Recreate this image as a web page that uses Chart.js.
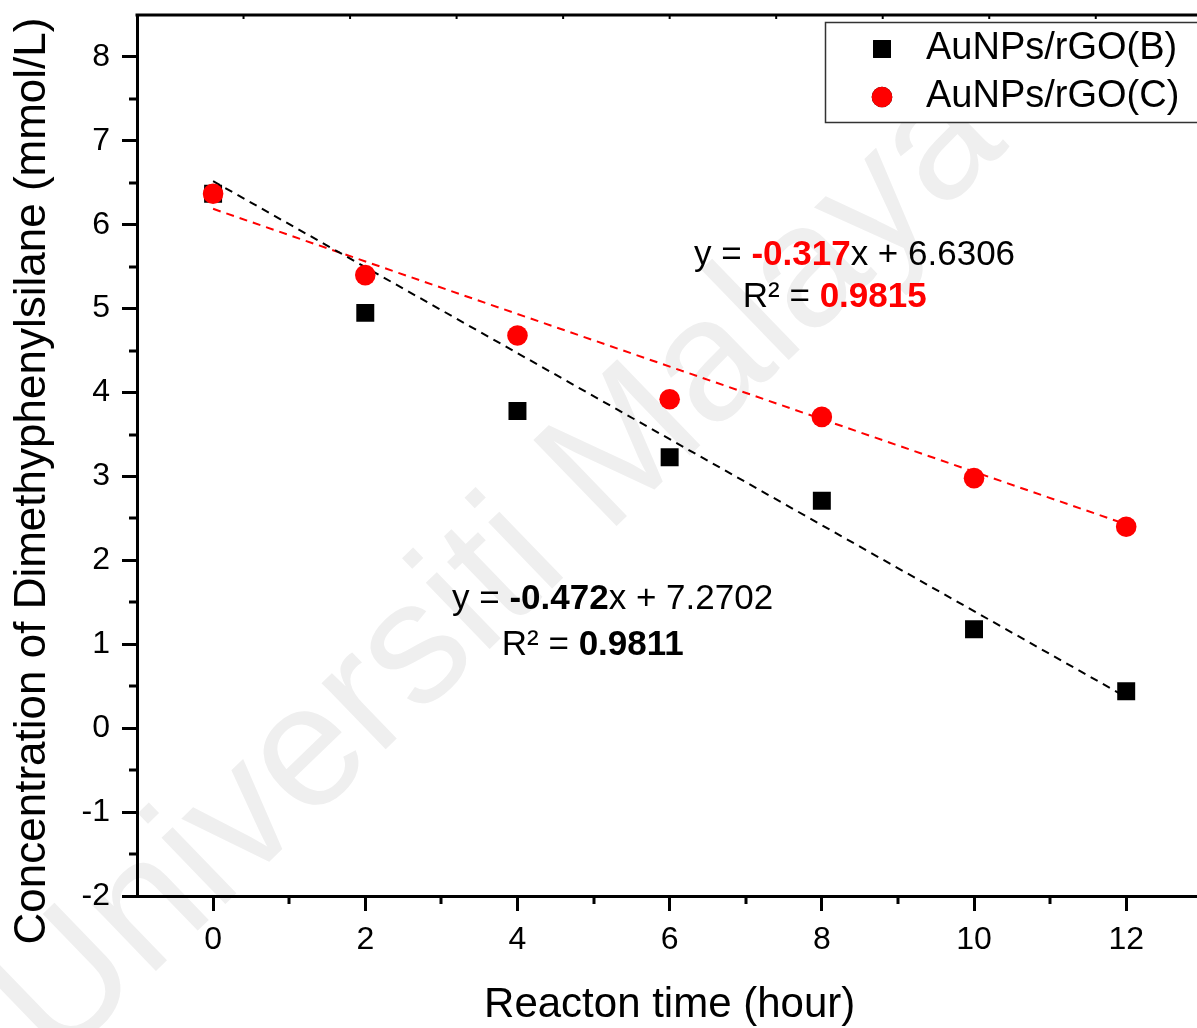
<!DOCTYPE html>
<html>
<head>
<meta charset="utf-8">
<script src="https://cdn.jsdelivr.net/npm/chart.js@4.4.1/dist/chart.umd.min.js"></script>
<style>
  html, body { margin: 0; padding: 0; background: #fff; overflow: hidden; }
  #wrap { width: 1215px; height: 1028px; }
</style>
</head>
<body>
<div id="wrap"><canvas id="c" width="1215" height="1028"></canvas></div>
<script>
// Reaction time (hours) and measured concentrations (mmol/L)
const hours = [0, 2, 4, 6, 8, 10, 12];
const concB = [6.37, 4.95, 3.78, 3.23, 2.71, 1.18, 0.44];
const concC = [6.37, 5.40, 4.68, 3.92, 3.71, 2.98, 2.40];

// Linear trend lines (end points)
const fitHours = [0, 12];
const fitB = [6.52, 0.37];
const fitC = [6.19, 2.43];

// Axis ticks
const xTickValues = [0, 2, 4, 6, 8, 10, 12];
const xMinorValues = [1, 3, 5, 7, 9, 11];
const yTickValues = [-2, -1, 0, 1, 2, 3, 4, 5, 6, 7, 8];
const yMinorValues = [-1.5, -0.5, 0.5, 1.5, 2.5, 3.5, 4.5, 5.5, 6.5, 7.5];

const seriesNames = ['AuNPs/rGO(B)', 'AuNPs/rGO(C)'];
const xTitle = 'Reacton time (hour)';
const yTitle = 'Concentration of Dimethyphenylsilane (mmol/L)';
const watermark = 'Universiti Malaya';

// Fit equations: [text, bold, colour] segments
const RED = '#ff0000';
const BLACK = '#000000';
const eqC = [['y = ', false, BLACK], ['-0.317', true, RED], ['x + 6.6306', false, BLACK]];
const r2C = [['R\u00B2 = ', false, BLACK], ['0.9815', true, RED]];
const eqB = [['y = ', false, BLACK], ['-0.472', true, BLACK], ['x + 7.2702', false, BLACK]];
const r2B = [['R\u00B2 = ', false, BLACK], ['0.9811', true, BLACK]];

const FONT = '"Liberation Sans", Arial, Helvetica, sans-serif';

const toXY = (xs, ys) => xs.map((x, i) => ({ x: x, y: ys[i] }));

function drawRich(ctx, segs, cx, cy, size) {
  let total = 0;
  const widths = segs.map(s => {
    ctx.font = (s[1] ? 'bold ' : '') + size + 'px ' + FONT;
    const w = ctx.measureText(s[0]).width;
    total += w;
    return w;
  });
  let x = cx - total / 2;
  ctx.textAlign = 'left';
  ctx.textBaseline = 'middle';
  segs.forEach((s, i) => {
    ctx.font = (s[1] ? 'bold ' : '') + size + 'px ' + FONT;
    ctx.fillStyle = s[2];
    ctx.fillText(s[0], x, cy);
    x += widths[i];
  });
}

const decor = {
  id: 'decor',
  beforeDraw(chart) {
    const ctx = chart.ctx;
    ctx.save();
    ctx.fillStyle = '#ffffff';
    ctx.fillRect(0, 0, chart.width, chart.height);
    // faint diagonal watermark
    ctx.translate(500, 572);
    ctx.rotate(-44 * Math.PI / 180);
    ctx.font = '174px ' + FONT;
    ctx.fillStyle = '#efefef';
    ctx.textAlign = 'center';
    ctx.textBaseline = 'middle';
    ctx.fillText(watermark, 0, 0);
    ctx.restore();
  },
  afterDraw(chart) {
    const ctx = chart.ctx;
    const xs = chart.scales.x, ys = chart.scales.y;
    const area = chart.chartArea;
    ctx.save();
    ctx.strokeStyle = '#000';
    // minor ticks
    ctx.lineWidth = 3;
    xMinorValues.forEach(v => {
      const px = Math.round(xs.getPixelForValue(v));
      ctx.beginPath();
      ctx.moveTo(px, area.bottom);
      ctx.lineTo(px, area.bottom + 8);
      ctx.stroke();
    });
    yMinorValues.forEach(v => {
      const py = Math.round(ys.getPixelForValue(v));
      ctx.beginPath();
      ctx.moveTo(area.left, py);
      ctx.lineTo(area.left - 8, py);
      ctx.stroke();
    });
    // top frame line with small inward ticks
    ctx.lineWidth = 3;
    ctx.beginPath();
    ctx.moveTo(area.left - 1.5, area.top);
    ctx.lineTo(area.right, area.top);
    ctx.stroke();
    ctx.lineWidth = 2;
    for (let k = 1; k < 10; k++) {
      const px = area.left + (area.right - area.left) * k / 10;
      ctx.beginPath();
      ctx.moveTo(px, area.top);
      ctx.lineTo(px, area.top + 4);
      ctx.stroke();
    }
    // y axis title
    ctx.save();
    ctx.translate(33, 481);
    ctx.rotate(-Math.PI / 2);
    ctx.font = '44px ' + FONT;
    ctx.fillStyle = '#000';
    ctx.textAlign = 'center';
    ctx.textBaseline = 'middle';
    ctx.fillText(yTitle, 0, 0);
    ctx.restore();

    // legend box
    ctx.lineWidth = 1.5;
    ctx.strokeStyle = '#333';
    ctx.fillStyle = '#fff';
    ctx.beginPath();
    ctx.rect(825.5, 22.5, 380, 100);
    ctx.fill();
    ctx.stroke();
    const rowsY = [49, 97];
    chart.data.datasets.slice(0, 2).forEach((ds, i) => {
      Chart.helpers.drawPoint(ctx, {
        pointStyle: ds.pointStyle,
        radius: ds.pointRadius,
        borderWidth: 0
      }, 882, rowsY[i]);
      ctx.fillStyle = ds.pointBackgroundColor;
      ctx.fill();
      ctx.fillStyle = '#000';
      ctx.font = '38px ' + FONT;
      ctx.textAlign = 'left';
      ctx.textBaseline = 'middle';
      ctx.fillText(seriesNames[i], 926, rowsY[i]);
    });

    // fit equations, anchored in data coordinates
    drawRich(ctx, eqC, xs.getPixelForValue(8.43), ys.getPixelForValue(5.64), 35);
    drawRich(ctx, r2C, xs.getPixelForValue(8.17), ys.getPixelForValue(5.13), 35);
    drawRich(ctx, eqB, xs.getPixelForValue(5.25), ys.getPixelForValue(1.53), 35);
    drawRich(ctx, r2B, xs.getPixelForValue(4.99), ys.getPixelForValue(0.99), 35);
    ctx.restore();
  }
};

new Chart(document.getElementById('c'), {
  type: 'scatter',
  data: {
    datasets: [
      {
        label: seriesNames[0],
        data: toXY(hours, concB),
        pointStyle: 'rect',
        pointRadius: 12.7,
        pointHoverRadius: 12.7,
        pointBackgroundColor: '#000000',
        pointBorderWidth: 0,
        borderWidth: 0,
        showLine: false,
        order: 1
      },
      {
        label: seriesNames[1],
        data: toXY(hours, concC),
        pointStyle: 'circle',
        pointRadius: 10.3,
        pointHoverRadius: 10.3,
        pointBackgroundColor: '#ff0000',
        pointBorderWidth: 0,
        borderWidth: 0,
        showLine: false,
        order: 0
      },
      {
        label: 'fit B',
        data: toXY(fitHours, fitB),
        showLine: true,
        borderColor: '#000000',
        borderWidth: 2,
        borderDash: [8, 6],
        pointRadius: 0,
        fill: false,
        order: 2
      },
      {
        label: 'fit C',
        data: toXY(fitHours, fitC),
        showLine: true,
        borderColor: '#ff0000',
        borderWidth: 2,
        borderDash: [8, 6],
        pointRadius: 0,
        fill: false,
        order: 3
      }
    ]
  },
  options: {
    responsive: false,
    animation: false,
    devicePixelRatio: 1,
    layout: { padding: { top: 15, right: 6, left: 0, bottom: 0 } },
    plugins: { legend: { display: false }, tooltip: { enabled: false } },
    scales: {
      x: {
        type: 'linear',
        position: 'bottom',
        min: -1,
        max: 13,
        afterBuildTicks: s => { s.ticks = xTickValues.map(v => ({ value: v })); },
        afterFit: s => { s.height = 132; s.paddingLeft = 0; s.paddingRight = 0; },
        border: { display: true, color: '#000', width: 3 },
        grid: { display: true, drawOnChartArea: false, drawTicks: true, tickLength: 15, tickWidth: 3, tickColor: '#000', lineWidth: 3, color: '#000' },
        ticks: { color: '#000', font: { family: FONT, size: 32 }, padding: 10, maxRotation: 0 },
        title: { display: true, text: xTitle, color: '#000', font: { family: FONT, size: 42, lineHeight: 1 }, padding: { top: 0, bottom: 2 } }
      },
      y: {
        type: 'linear',
        position: 'left',
        min: -2,
        max: 8.5,
        afterBuildTicks: s => { s.ticks = yTickValues.map(v => ({ value: v })); },
        afterFit: s => { s.width = 137; s.paddingTop = 0; s.paddingBottom = 0; },
        border: { display: true, color: '#000', width: 3 },
        grid: { display: true, drawOnChartArea: false, drawTicks: true, tickLength: 15, tickWidth: 3, tickColor: '#000', lineWidth: 3, color: '#000' },
        ticks: { color: '#000', font: { family: FONT, size: 32 }, padding: 12 }
      }
    }
  },
  plugins: [decor]
});
</script>
</body>
</html>
